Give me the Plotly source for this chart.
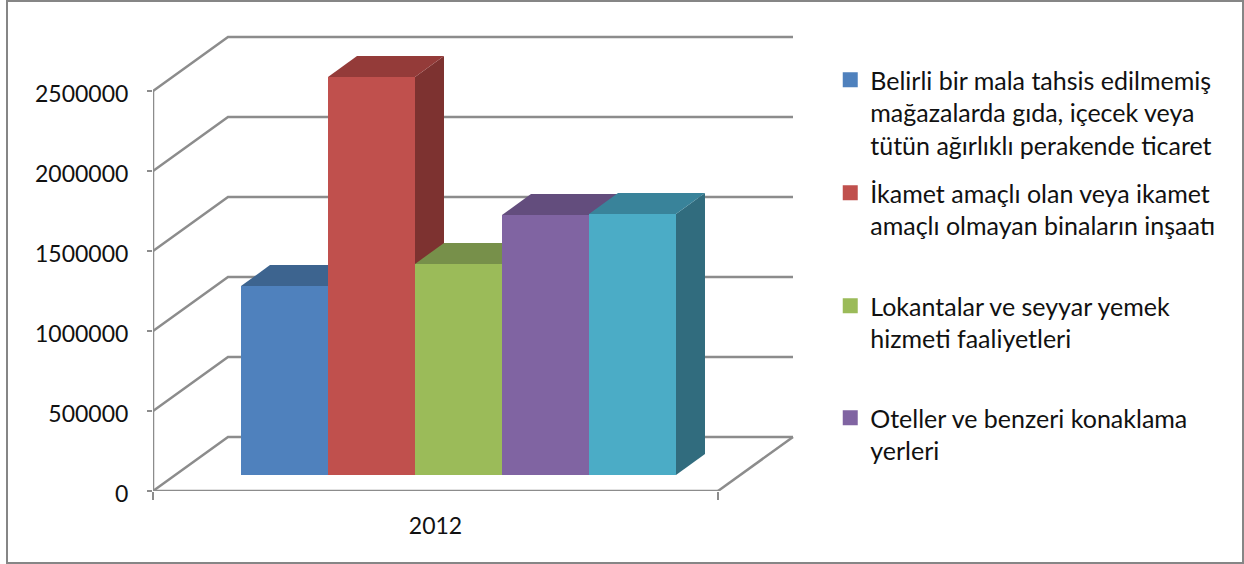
import plotly.graph_objects as go

# values
years = ["2012"]
series = ["Belirli bir mala tahsis edilmemiş", "mağazalarda gıda, içecek veya", "tütün ağırlıklı perakende ticaret"], \
         ["İkamet amaçlı olan veya ikamet", "amaçlı olmayan binaların inşaatı"], \
         ["Lokantalar ve seyyar yemek", "hizmeti faaliyetleri"], \
         ["Oteller ve benzeri konaklama", "yerleri"]
values = [1181000, 2487000, 1319000, 1625000, 1631000]
ticks = [0, 500000, 1000000, 1500000, 2000000, 2500000]

front = ["#4F81BD", "#C0504D", "#9BBB59", "#8064A2", "#4BACC6"]
top = ["#3D648F", "#943B39", "#77904A", "#634D7D", "#39839A"]
side = ["#2F5178", "#7D3230", "#62783A", "#523F68", "#316C7E"]
grid = "#8C8C8C"

# pseudo 3d geometry, x in category widths, y in value units
wall_dx, wall_dy = 75 / 565, 337500
bar_x0, bar_w = 88 / 565, 87 / 565
bar_base = 100000
bar_dx, bar_dy = 29 / 565, 131250
x_max, y_max = 647 / 565, 461 * 6250

# first line centre of each legend entry, px from the top
legend_y = [80, 193, 306, 418]

fig = go.Figure()

def poly(xs, ys, color):
    fig.add_trace(go.Scatter(x=xs, y=ys, mode="lines", fill="toself", fillcolor=color,
                             line=dict(width=0), showlegend=False, hoverinfo="skip"))

def wire(xs, ys):
    fig.add_trace(go.Scatter(x=xs, y=ys, mode="lines", line=dict(color=grid, width=2.5), cliponaxis=False,
                             showlegend=False, hoverinfo="skip"))

# walls and the two axis lines, which stop at the last tick
for t in ticks:
    wire([0, wall_dx, 1 + wall_dx], [t, t + wall_dy, t + wall_dy])
wire([1, 1 + wall_dx], [0, wall_dy])
wire([0, 0], [0, ticks[-1]])
wire([0, 1], [0, 0])

# side and top faces, left to right so that each bar hides the one before
for i, v in enumerate(values):
    left = bar_x0 + i * bar_w
    right = left + bar_w
    h = bar_base + v
    poly([right, right + bar_dx, right + bar_dx, right, right],
         [bar_base, bar_base + bar_dy, h + bar_dy, h, bar_base], side[i])
    poly([left, right, right + bar_dx, left + bar_dx, left],
         [h, h, h + bar_dy, h + bar_dy, h], top[i])

# front faces on an overlay so they stay above the scatter faces
for i, v in enumerate(values):
    fig.add_trace(go.Bar(x=[bar_x0 + (i + 0.5) * bar_w], y=[v], base=bar_base, width=bar_w,
                         marker=dict(color=front[i], line=dict(width=0)),
                         xaxis="x2", yaxis="y2", showlegend=False))

# legend only has four of the five series, one legend each so the swatch sits on the first line
legends = {}
for i, lines in enumerate(series):
    key = "legend" if i == 0 else "legend%d" % (i + 1)
    name = "<br>".join(["&nbsp;"] * (len(lines) - 1) + list(lines))
    fig.add_trace(go.Bar(x=[None], y=[None], name=name, legend=key,
                         marker=dict(color=front[i], line=dict(color=front[i], width=3)),
                         xaxis="x2", yaxis="y2"))
    legends[key] = dict(xref="container", yref="container", x=0.6674, y=1 - legend_y[i] / 564,
                        xanchor="left", yanchor="middle", bgcolor="rgba(0,0,0,0)",
                        font=dict(size=25))

fig.update_layout(
    width=1244, height=564, margin=dict(l=153, r=444, t=30, b=73, pad=0),
    paper_bgcolor="white", plot_bgcolor="white",
    font=dict(family="Lato", size=23, color="#111111"),
    barmode="overlay",
    xaxis=dict(range=[0, x_max], tickvals=[0.5], ticktext=years, ticks="", showgrid=False, zeroline=False,
               showline=False, ticklabelstandoff=19,
               minor=dict(tickvals=[0, 1], ticks="outside", ticklen=8, tickcolor=grid, tickwidth=2, showgrid=False)),
    yaxis=dict(range=[0, y_max], tickvals=ticks, ticktext=[str(t) for t in ticks], ticks="outside", ticklen=5,
               tickcolor=grid, tickwidth=2, showgrid=False, zeroline=False, showline=False,
               ticklabelstandoff=14, ticklabelshift=3),
    xaxis2=dict(range=[0, x_max], overlaying="x", visible=False),
    yaxis2=dict(range=[0, y_max], overlaying="y", visible=False),
    shapes=[dict(type="rect", xref="paper", yref="paper", x0=(7 - 153) / 647, x1=(1243 - 153) / 647,
                 y0=(491 - 563) / 461, y1=(491 - 1) / 461, line=dict(color="#868686", width=2))],
    **legends,
)

# page margin off so the chart fills the window
fig.write_html("out.html", post_script="document.body.style.margin='0';", config=dict(displayModeBar=False))
